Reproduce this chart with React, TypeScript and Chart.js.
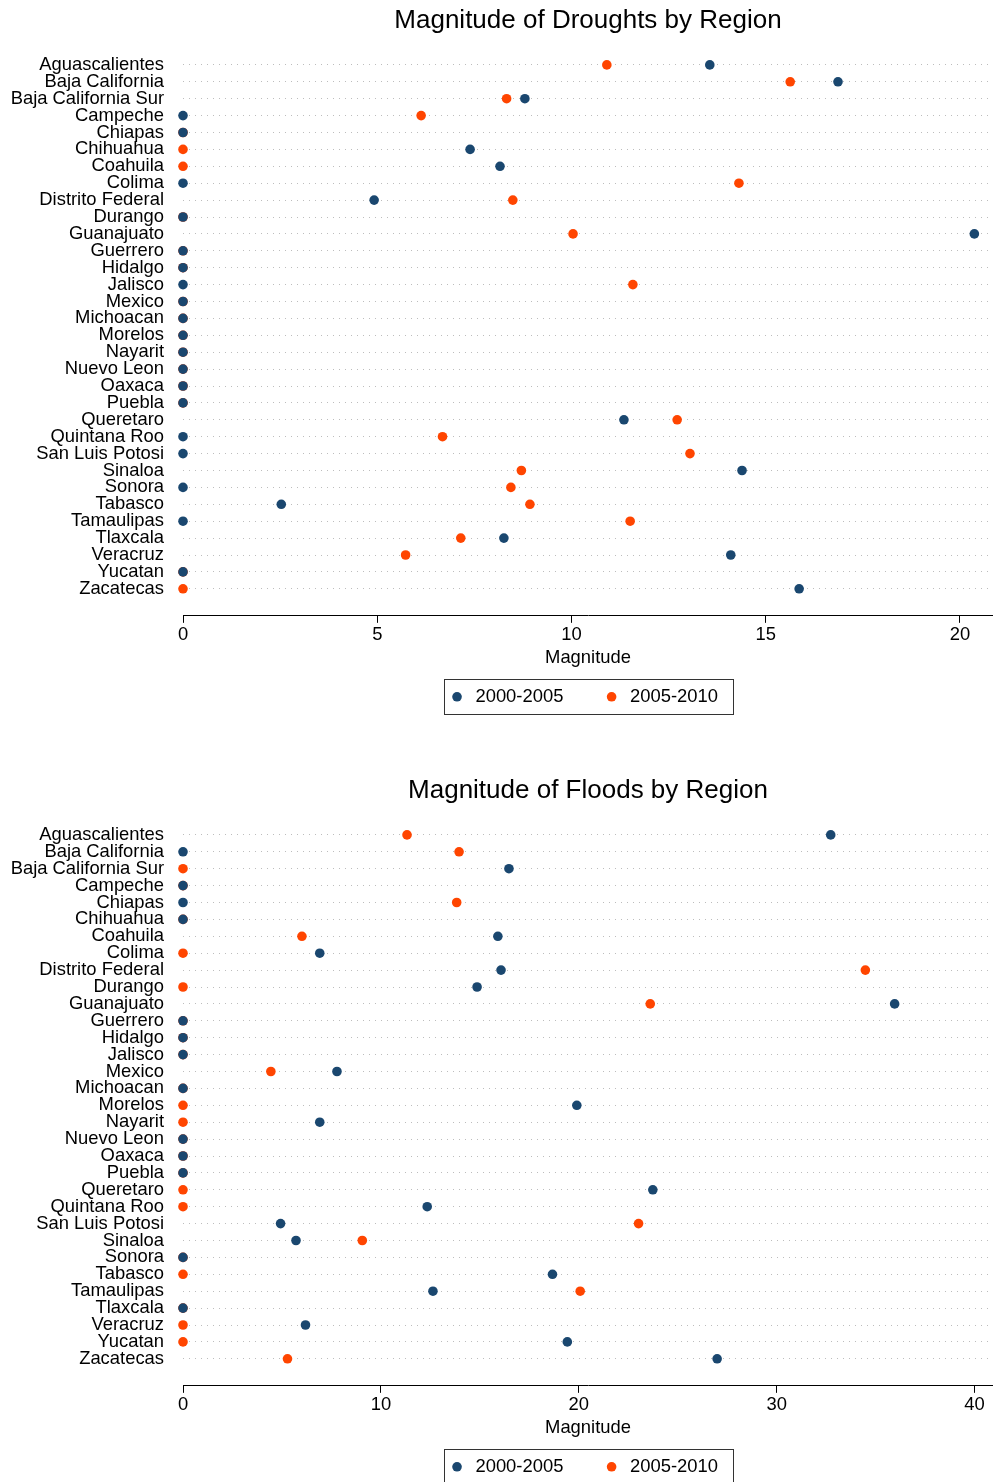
import React, { useEffect, useRef } from 'react';
import { Chart, registerables } from 'chart.js';

Chart.register(...registerables);

const regions = [
  'Aguascalientes', 'Baja California', 'Baja California Sur', 'Campeche', 'Chiapas', 'Chihuahua',
  'Coahuila', 'Colima', 'Distrito Federal', 'Durango', 'Guanajuato', 'Guerrero', 'Hidalgo', 'Jalisco',
  'Mexico', 'Michoacan', 'Morelos', 'Nayarit', 'Nuevo Leon', 'Oaxaca', 'Puebla', 'Queretaro',
  'Quintana Roo', 'San Luis Potosi', 'Sinaloa', 'Sonora', 'Tabasco', 'Tamaulipas', 'Tlaxcala',
  'Veracruz', 'Yucatan', 'Zacatecas',
];

const seriesLabels = ['2000-2005', '2005-2010'];

const drought2000 = [
  13.56, 16.86, 8.8, 0, 0, 7.39, 8.16, 0, 4.92, 0, 20.37, 0, 0, 0, 0, 0,
  0, 0, 0, 0, 0, 11.35, 0, 0, 14.39, 0, 2.53, 0, 8.26, 14.1, 0, 15.86,
];
const drought2005 = [
  10.91, 15.63, 8.33, 6.13, 0, 0, 0, 14.31, 8.49, 0, 10.04, 0, 0, 11.58, 0, 0,
  0, 0, 0, 0, 0, 12.72, 6.68, 13.05, 8.71, 8.44, 8.93, 11.51, 7.15, 5.73, 0, 0,
];
const flood2000 = [
  32.73, 0, 16.47, 0, 0, 0, 15.91, 6.91, 16.07, 14.86, 35.96, 0, 0, 0, 7.78, 0,
  19.9, 6.91, 0, 0, 0, 23.74, 12.34, 4.93, 5.71, 0, 18.67, 12.63, 0, 6.19, 19.42, 26.99,
];
const flood2005 = [
  11.32, 13.95, 0, 0, 13.83, 0, 6.01, 0, 34.48, 0, 23.61, 0, 0, 0, 4.44, 0,
  0, 0, 0, 0, 0, 0, 0, 23.02, 9.06, 0, 0, 20.07, 0, 0, 0, 5.28,
];

const droughtTicks = [0, 5, 10, 15, 20];
const floodTicks = [0, 10, 20, 30, 40];
const droughtMax = 20.85;
const floodMax = 40.93;

const BLUE = '#1a476f';
const ORANGE = '#ff4500';
const FONT = "'Liberation Sans', Arial, Helvetica, sans-serif";

const legendBoxPlugin = {
  id: 'legendBox',
  afterDraw(chart: any) {
    const lg = chart.legend;
    if (!lg || !lg.legendHitBoxes || !lg.legendHitBoxes.length) return;
    const hbs = lg.legendHitBoxes;
    const left = Math.min(...hbs.map((h: any) => h.left));
    const right = Math.max(...hbs.map((h: any) => h.left + h.width));
    const top = Math.min(...hbs.map((h: any) => h.top));
    const bottom = Math.max(...hbs.map((h: any) => h.top + h.height));
    const cx = (left + right) / 2;
    const ctx = chart.ctx;
    ctx.save();
    ctx.strokeStyle = '#333';
    ctx.lineWidth = 1;
    ctx.strokeRect(Math.round(cx - 144.5) + 0.5, Math.round(top - 9) + 0.5, 289, Math.round(bottom - top + 16.5));
    ctx.restore();
  },
};

function Panel({ title, blue, orange, ticks, max }: { title: string; blue: number[]; orange: number[]; ticks: number[]; max: number }) {
  const ref = useRef<HTMLCanvasElement | null>(null);
  useEffect(() => {
    if (!ref.current) return;
    const chart = new Chart(ref.current, {
      type: 'scatter',
      data: {
        datasets: [
          {
            label: seriesLabels[0],
            data: blue.map((v, i) => ({ x: v, y: i })),
            backgroundColor: BLUE,
            borderColor: BLUE,
            borderWidth: 0,
            pointRadius: 4.8,
            pointHoverRadius: 4.8,
            clip: false as any,
          },
          {
            label: seriesLabels[1],
            data: orange.map((v, i) => ({ x: v, y: i })),
            backgroundColor: ORANGE,
            borderColor: ORANGE,
            borderWidth: 0,
            pointRadius: 4.8,
            pointHoverRadius: 4.8,
            clip: false as any,
          },
        ],
      },
      options: {
        animation: false,
        responsive: false,
        events: [],
        layout: { autoPadding: false, padding: { top: 0, right: 0, bottom: 54, left: 0 } },
        scales: {
          x: {
            type: 'linear',
            min: 0,
            max,
            afterBuildTicks: (scale: any) => {
              scale.ticks = ticks.map((v) => ({ value: v }));
            },
            ticks: { padding: 1, color: '#000', font: { size: 18.4, family: FONT }, maxRotation: 0, autoSkip: false },
            grid: { drawOnChartArea: false, drawTicks: true, tickLength: 7, tickColor: '#000', tickWidth: 1 },
            border: { display: true, color: '#000', width: 1 },
            title: { display: true, text: 'Magnitude', color: '#000', font: { size: 18.4, family: FONT }, padding: { top: 0, bottom: 0 } },
          },
          y: {
            type: 'linear',
            reverse: true,
            min: -0.93,
            max: 32.6,
            afterBuildTicks: (scale: any) => {
              scale.ticks = regions.map((_, i) => ({ value: i }));
            },
            afterFit: (scale: any) => {
              scale.width = 183;
            },
            ticks: {
              autoSkip: false,
              padding: 19,
              color: '#000',
              font: { size: 18.4, family: FONT },
              callback: (v: any) => regions[v as number] ?? '',
            },
            grid: { drawTicks: false, color: '#bdbdbd', lineWidth: 1 },
            border: { display: false, dash: [1, 5] },
          },
        },
        plugins: {
          title: {
            display: true,
            text: title,
            color: '#000',
            fullSize: false,
            font: { size: 26, weight: 'normal', family: FONT },
            padding: { top: 5, bottom: 13 },
          },
          legend: {
            display: true,
            position: 'bottom',
            fullSize: false,
            labels: {
              usePointStyle: true,
              pointStyle: 'circle',
              boxWidth: 18.4,
              boxHeight: 6.8,
              padding: 18.6,
              color: '#000',
              font: { size: 18.4, family: FONT },
              generateLabels: (c: any) => {
                const items = (Chart.defaults.plugins.legend.labels as any).generateLabels(c);
                return items.map((it: any, i: number) => ({ ...it, text: it.text + (i === 0 ? '    ' : '  ') }));
              },
            },
          },
          tooltip: { enabled: false },
        },
      } as any,
      plugins: [legendBoxPlugin],
    });
    return () => chart.destroy();
  }, [title, blue, orange, ticks, max]);
  return <canvas ref={ref} width={993} height={770} style={{ display: 'block', width: 993, height: 770 }} />;
}

export default function App() {
  useEffect(() => {
    document.body.style.margin = '0';
    document.body.style.background = '#fff';
  }, []);
  return (
    <div style={{ width: 993, height: 1482, overflow: 'hidden', background: '#fff' }}>
      <Panel title="Magnitude of Droughts by Region" blue={drought2000} orange={drought2005} ticks={droughtTicks} max={droughtMax} />
      <Panel title="Magnitude of Floods by Region" blue={flood2000} orange={flood2005} ticks={floodTicks} max={floodMax} />
    </div>
  );
}
